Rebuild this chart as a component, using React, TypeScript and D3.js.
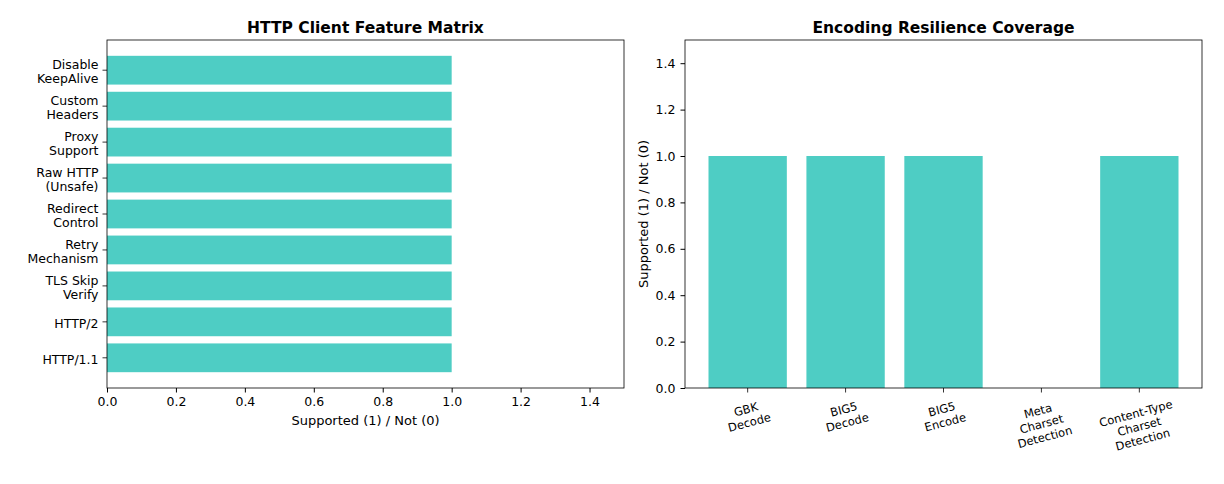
import { useEffect, useRef } from 'react';
import * as d3 from 'd3';

const clientFeatures = [
  'HTTP/1.1',
  'HTTP/2',
  'TLS Skip\nVerify',
  'Retry\nMechanism',
  'Redirect\nControl',
  'Raw HTTP\n(Unsafe)',
  'Proxy\nSupport',
  'Custom\nHeaders',
  'Disable\nKeepAlive',
];
const clientSupport = [1, 1, 1, 1, 1, 1, 1, 1, 1];

const encodingFeatures = [
  'GBK\nDecode',
  'BIG5\nDecode',
  'BIG5\nEncode',
  'Meta\nCharset\nDetection',
  'Content-Type\nCharset\nDetection',
];
const encodingSupport = [1, 1, 1, 0, 1];

const valueTicks = [0, 0.2, 0.4, 0.6, 0.8, 1.0, 1.2, 1.4];

const W = 1224;
const H = 484;
const barColor = '#4ECDC4';
const font = 'DejaVu Sans, sans-serif';
const tickFs = '12.5px';

export default function App() {
  const svgRef = useRef<SVGSVGElement>(null);

  useEffect(() => {
    document.body.style.margin = '0';
    if (!svgRef.current) return;
    const svg = d3.select(svgRef.current);
    svg.selectAll('*').remove();
    svg.append('rect').attr('width', W).attr('height', H).attr('fill', '#fff');

    // ---------- left: horizontal bars ----------
    const L = { left: 107, right: 624, top: 40, bottom: 388 };
    const xL = d3.scaleLinear().domain([0, 1.5]).range([L.left, L.right]);
    const yL = d3
      .scaleLinear()
      .domain([-0.84, clientFeatures.length - 1 + 0.84])
      .range([L.bottom, L.top]);

    const gL = svg.append('g');
    gL.selectAll('rect.bar')
      .data(clientSupport)
      .enter()
      .append('rect')
      .attr('class', 'bar')
      .attr('x', xL(0))
      .attr('y', (_, i) => yL(i + 0.4))
      .attr('width', (d) => xL(d) - xL(0))
      .attr('height', (_, i) => yL(i - 0.4) - yL(i + 0.4))
      .attr('fill', barColor);

    const axL = gL
      .append('g')
      .attr('transform', `translate(0,${L.bottom})`)
      .call(d3.axisBottom(xL).tickValues(valueTicks).tickFormat(d3.format('.1f')).tickSizeOuter(0).tickSize(4.5).tickPadding(5));
    axL.select('.domain').remove();
    axL.selectAll('text').style('font-size', tickFs).style('font-family', font).attr('fill', '#000');

    // y ticks with multi-line labels
    clientFeatures.forEach((lab, i) => {
      const y = yL(i);
      gL.append('line').attr('x1', L.left - 4.5).attr('x2', L.left).attr('y1', y).attr('y2', y).attr('stroke', '#000').attr('stroke-width', 0.8);
      const lines = lab.split('\n');
      const lh = 14.3;
      const t = gL
        .append('text')
        .attr('text-anchor', 'end')
        .style('font-size', tickFs)
        .style('font-family', font)
        .attr('fill', '#000');
      lines.forEach((ln, k) => {
        t.append('tspan')
          .attr('x', L.left - 8.5)
          .attr('y', y + 1.5 + (k - (lines.length - 1) / 2) * lh)
          .attr('dy', '0.35em')
          .text(ln);
      });
    });

    gL.append('rect')
      .attr('x', L.left)
      .attr('y', L.top)
      .attr('width', L.right - L.left)
      .attr('height', L.bottom - L.top)
      .attr('fill', 'none')
      .attr('stroke', '#000')
      .attr('stroke-width', 0.8);

    gL.append('text')
      .attr('x', (L.left + L.right) / 2)
      .attr('y', 425)
      .attr('text-anchor', 'middle')
      .style('font-size', '13px')
      .style('font-family', font)
      .text('Supported (1) / Not (0)');

    gL.append('text')
      .attr('x', (L.left + L.right) / 2)
      .attr('y', 33)
      .attr('text-anchor', 'middle')
      .style('font-size', '15.5px')
      .style('font-weight', 'bold')
      .style('font-family', font)
      .text('HTTP Client Feature Matrix');

    // ---------- right: vertical bars ----------
    const R = { left: 685, right: 1202, top: 40, bottom: 388 };
    const xR = d3
      .scaleLinear()
      .domain([-0.64, encodingFeatures.length - 1 + 0.64])
      .range([R.left, R.right]);
    const yR = d3.scaleLinear().domain([0, 1.5]).range([R.bottom, R.top]);

    const gR = svg.append('g');
    gR.selectAll('rect.bar')
      .data(encodingSupport)
      .enter()
      .append('rect')
      .attr('class', 'bar')
      .attr('x', (_, i) => xR(i - 0.4))
      .attr('y', (d) => yR(d))
      .attr('width', (_, i) => xR(i + 0.4) - xR(i - 0.4))
      .attr('height', (d) => yR(0) - yR(d))
      .attr('fill', barColor);

    const ayR = gR
      .append('g')
      .attr('transform', `translate(${R.left},0)`)
      .call(d3.axisLeft(yR).tickValues(valueTicks).tickFormat(d3.format('.1f')).tickSize(4.5).tickPadding(5));
    ayR.select('.domain').remove();
    ayR.selectAll('text').style('font-size', tickFs).style('font-family', font).attr('fill', '#000');

    encodingFeatures.forEach((lab, i) => {
      const x = xR(i);
      gR.append('line').attr('x1', x).attr('x2', x).attr('y1', R.bottom).attr('y2', R.bottom + 4.5).attr('stroke', '#000').attr('stroke-width', 0.8);
      const lines = lab.split('\n');
      const lh = 13.5;
      const g = gR.append('g');
      const t = g
        .append('text')
        .attr('text-anchor', 'middle')
        .attr('transform', 'rotate(-15)')
        .style('font-size', '11.5px')
        .style('font-family', font)
        .attr('fill', '#000');
      lines.forEach((ln, k) => {
        t.append('tspan')
          .attr('x', 0)
          .attr('y', (k - (lines.length - 1) / 2) * lh)
          .attr('dy', '0.35em')
          .text(ln);
      });
      const bb = (g.node() as SVGGElement).getBBox();
      const cx = bb.x + bb.width / 2;
      g.attr('transform', `translate(${x - cx},${R.bottom + 9 - bb.y})`);
    });

    gR.append('rect')
      .attr('x', R.left)
      .attr('y', R.top)
      .attr('width', R.right - R.left)
      .attr('height', R.bottom - R.top)
      .attr('fill', 'none')
      .attr('stroke', '#000')
      .attr('stroke-width', 0.8);

    gR.append('text')
      .attr('transform', `translate(648,${(R.top + R.bottom) / 2}) rotate(-90)`)
      .attr('text-anchor', 'middle')
      .style('font-size', '13px')
      .style('font-family', font)
      .text('Supported (1) / Not (0)');

    gR.append('text')
      .attr('x', (R.left + R.right) / 2)
      .attr('y', 33)
      .attr('text-anchor', 'middle')
      .style('font-size', '15.5px')
      .style('font-weight', 'bold')
      .style('font-family', font)
      .text('Encoding Resilience Coverage');
  }, []);

  return <svg ref={svgRef} width={W} height={H} style={{ display: 'block' }} />;
}
